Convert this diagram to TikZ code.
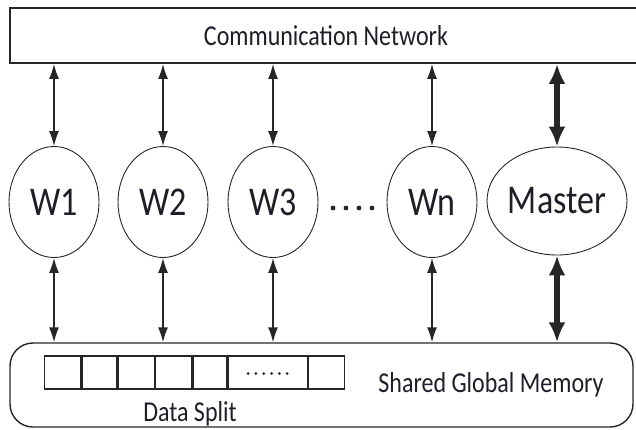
\documentclass[tikz,border=0pt]{standalone}
\usepackage{graphicx}
\usepackage{fontspec}
\setmainfont{Carlito}
\usetikzlibrary{shapes.geometric,arrows.meta,calc}
\definecolor{ink}{HTML}{1E1E28}
\definecolor{edge}{HTML}{262626}
% slightly tall lettering
\newcommand\tallcopy[1]{\scalebox{1}[1.2]{#1}}
\tikzset{
  netbox/.style={draw=edge, line width=1.9pt, minimum width=635pt, minimum height=55pt, inner sep=0pt},
  membox/.style={draw=edge, line width=1.4pt, rounded corners=23pt, minimum width=623pt, minimum height=84pt, inner sep=0pt},
  worker/.style={draw=edge, ellipse, line width=0.9pt, minimum width=90pt, minimum height=111pt, inner sep=0pt, text=ink, font=\fontsize{34}{40}\selectfont},
  cell/.style={draw=edge, line width=1.3pt, minimum height=33pt, inner sep=0pt, anchor=west},
  caption/.style={text=ink, font=\fontsize{24}{28}\selectfont, inner sep=0pt},
  link/.style={{Latex[length=15pt,width=10pt]}-{Latex[length=15pt,width=10pt]}, line width=1.4pt, draw=edge},
  boldlink/.style={{Latex[length=20pt,width=17pt]}-{Latex[length=20pt,width=17pt]}, line width=5.5pt, draw=edge},
}
\begin{document}
\begin{tikzpicture}[x=1pt,y=-1pt]
\useasboundingbox (0,0) rectangle (636,429);

% communication network bar and shared memory
\node[netbox] (net) at (327.5,35.5) {};
\node[caption] (nettext) at (326,36) {\tallcopy{Communication Network}};
\node[membox] (mem) at (321.5,385) {};

% workers and master
\node[worker] (w1) at (54,202) {\tallcopy{W1}};
\node[worker] (w2) at (163,202) {\tallcopy{W2}};
\node[worker] (w3) at (273,202) {\tallcopy{W3}};
\node[worker] (wn) at (432,202) {\tallcopy{Wn}};
\node[worker, minimum width=140pt, minimum height=108pt] (master) at (557,201) {\tallcopy{Master}};

% ellipsis between W3 and Wn
\foreach \i in {0,1,2,3}
  \fill[edge] (333+\i*13,208) circle (2.4pt);

% links to the network and to memory
\foreach \w in {w1,w2,w3,wn}{
  \draw[link] (net.south -| \w.north) -- (\w.north);
  \draw[link] (\w.south) -- (\w.south |- mem.north);
}
\draw[boldlink] (net.south -| master.north) -- (master.north);
\draw[boldlink] (master.south) -- (master.south |- mem.north);

% data split cells
\node[cell, minimum width=36pt] (c1) at (44,372.5) {};
\node[cell, minimum width=35pt] (c2) at (c1.east) {};
\node[cell, minimum width=36pt] (c3) at (c2.east) {};
\node[cell, minimum width=36pt] (c4) at (c3.east) {};
\node[cell, minimum width=34pt] (c5) at (c4.east) {};
\node[cell, minimum width=79pt] (c6) at (c5.east) {};
\node[cell, minimum width=36pt] (c7) at (c6.east) {};
\foreach \i in {0,...,5}
  \fill[edge] ($(c6.center)+(-19.5+\i*7.8,1)$) circle (1.5pt);

\node[caption] (split) at (190,414) {\tallcopy{Data Split}};
\node[caption] (memtext) at (491,385) {\tallcopy{Shared Global Memory}};
\end{tikzpicture}
\end{document}
